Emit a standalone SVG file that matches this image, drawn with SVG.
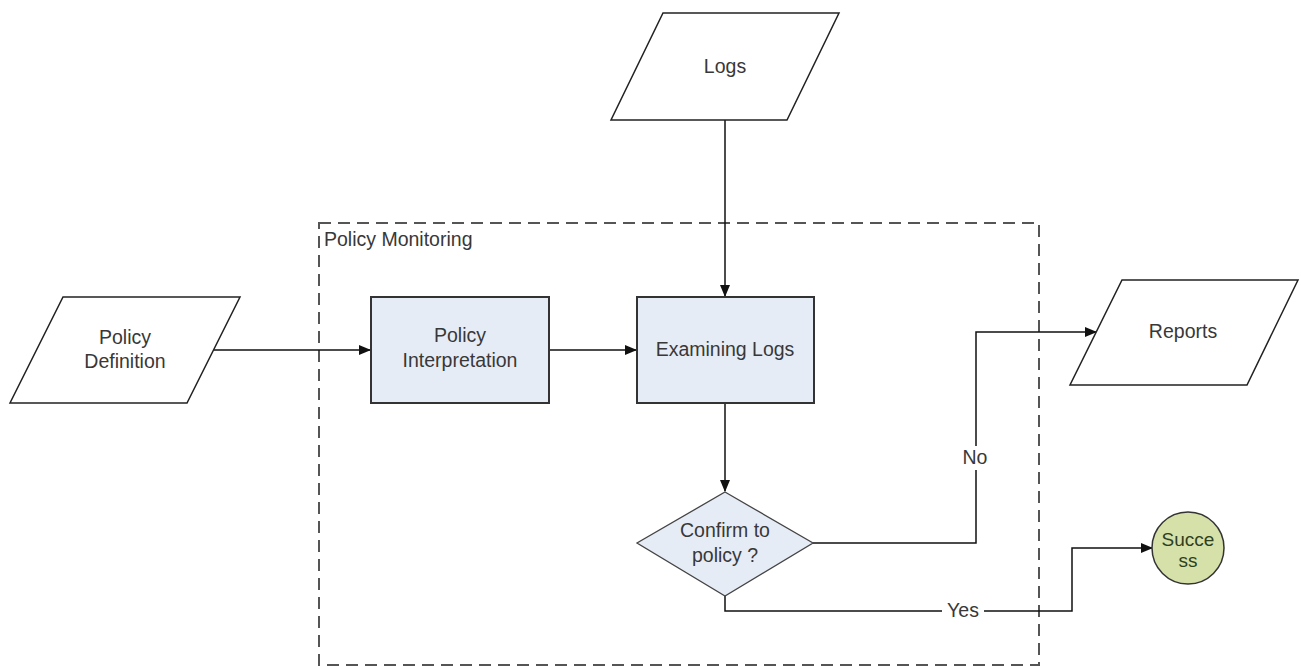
<svg xmlns="http://www.w3.org/2000/svg" width="1301" height="666" viewBox="0 0 1301 666">
  <style>
    .io { fill: #ffffff; stroke: #222; stroke-width: 1.5; }
    .proc { fill: #e6ecf6; stroke: #333; stroke-width: 2; }
    .dec { fill: #e6ecf6; stroke: #444; stroke-width: 1.3; }
    .end { fill: #d6e0a9; stroke: #333; stroke-width: 1.5; }
    .frame { fill: none; stroke: #555; stroke-width: 2; stroke-dasharray: 12 7; }
    .edge { fill: none; stroke: #111; stroke-width: 1.5; }
    text { font-family: "Liberation Sans", Arial, sans-serif; font-size: 19.5px; fill: #383838; text-anchor: middle; }
    .lbl { text-anchor: start; }
    .endtxt { fill: #2e3f1c; font-size: 19px; }
  </style>
  <defs>
    <marker id="arrow" markerWidth="12" markerHeight="10" refX="11" refY="5" orient="auto" markerUnits="userSpaceOnUse">
      <path d="M0,0 L12,5 L0,10 Z" fill="#111"/>
    </marker>
  </defs>
  <rect width="1301" height="666" fill="#ffffff"/>

  <!-- boundary of the monitoring stage -->
  <g id="policy-monitoring">
    <rect class="frame" x="319" y="223" width="720" height="442"/>
    <text class="lbl" x="324" y="246">Policy Monitoring</text>
  </g>

  <g id="connectors">
    <line class="edge" x1="214" y1="350" x2="370" y2="350" marker-end="url(#arrow)"/>
    <line class="edge" x1="549" y1="350" x2="636" y2="350" marker-end="url(#arrow)"/>
    <line class="edge" x1="725" y1="120" x2="725" y2="296" marker-end="url(#arrow)"/>
    <line class="edge" x1="725" y1="403" x2="725" y2="491" marker-end="url(#arrow)"/>
    <path class="edge" d="M813,543 H976 V332 H1096" marker-end="url(#arrow)"/>
    <path class="edge" d="M725,596 V611 H1072 V548 H1152" marker-end="url(#arrow)"/>
    <rect x="960" y="446" width="32" height="24" fill="#ffffff"/>
    <text x="975" y="464">No</text>
    <rect x="942" y="601" width="42" height="20" fill="#ffffff"/>
    <text x="963" y="617">Yes</text>
  </g>

  <g id="logs">
    <polygon class="io" points="663,13 839,13 787,120 611,120"/>
    <text x="725" y="73">Logs</text>
  </g>

  <g id="policy-definition">
    <polygon class="io" points="63,297 240,297 187,403 10,403"/>
    <text x="125" y="344">Policy</text>
    <text x="125" y="368">Definition</text>
  </g>

  <g id="policy-interpretation">
    <rect class="proc" x="371" y="297" width="178" height="106"/>
    <text x="460" y="342">Policy</text>
    <text x="460" y="367">Interpretation</text>
  </g>

  <g id="examining-logs">
    <rect class="proc" x="637" y="297" width="177" height="106"/>
    <text x="725" y="356">Examining Logs</text>
  </g>

  <g id="confirm-policy">
    <polygon class="dec" points="725,492 813,543 725,596 637,543"/>
    <text x="725" y="537">Confirm to</text>
    <text x="725" y="562">policy ?</text>
  </g>

  <g id="reports">
    <polygon class="io" points="1122,280 1298,280 1247,385 1070,385"/>
    <text x="1183" y="338">Reports</text>
  </g>

  <g id="success">
    <circle class="end" cx="1188" cy="548" r="36"/>
    <text class="endtxt" x="1188" y="546">Succe</text>
    <text class="endtxt" x="1188" y="567">ss</text>
  </g>
</svg>
